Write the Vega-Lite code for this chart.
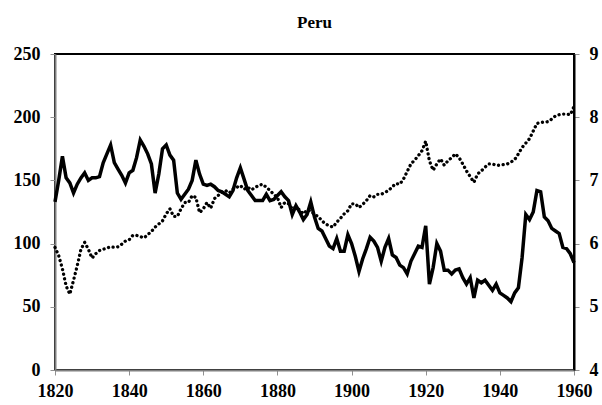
{
  "$schema": "https://vega.github.io/schema/vega-lite/v6.json",
  "autosize": "none",
  "width": 519,
  "height": 316,
  "padding": {"left": 55, "top": 54, "right": 28, "bottom": 35},
  "background": "white",
  "title": {"text": "Peru", "font": "Liberation Serif", "fontSize": 17, "fontWeight": "bold", "color": "black", "offset": 13},
  "config": {
    "view": {"stroke": "black", "strokeWidth": 2},
    "axis": {"labelFont": "Liberation Serif", "labelFontSize": 18, "labelFontWeight": "bold", "labelColor": "black", "grid": false, "domain": true, "domainColor": "#808080", "domainWidth": 2, "tickColor": "#909090", "tickWidth": 1, "tickSize": 5, "title": null, "labelPadding": 10, "labelFlush": false, "labelOverlap": false}
  },
  "data": {"values": [
    {"year":1820,"a":133,"b":5.94},{"year":1821,"a":150,"b":5.81},{"year":1822,"a":169,"b":5.60},{"year":1823,"a":152,"b":5.33},{"year":1824,"a":148,"b":5.20},
    {"year":1825,"a":140,"b":5.42},{"year":1826,"a":147,"b":5.65},{"year":1827,"a":152,"b":5.91},{"year":1828,"a":156,"b":6.02},{"year":1829,"a":150,"b":5.91},
    {"year":1830,"a":152,"b":5.77},{"year":1831,"a":152,"b":5.84},{"year":1832,"a":153,"b":5.89},{"year":1833,"a":164,"b":5.91},{"year":1834,"a":171,"b":5.93},
    {"year":1835,"a":178,"b":5.95},{"year":1836,"a":164,"b":5.94},{"year":1837,"a":159,"b":5.95},{"year":1838,"a":154,"b":5.99},{"year":1839,"a":148,"b":6.04},
    {"year":1840,"a":156,"b":6.06},{"year":1841,"a":158,"b":6.13},{"year":1842,"a":168,"b":6.13},{"year":1843,"a":182,"b":6.11},{"year":1844,"a":177,"b":6.09},
    {"year":1845,"a":171,"b":6.14},{"year":1846,"a":163,"b":6.19},{"year":1847,"a":140,"b":6.26},{"year":1848,"a":155,"b":6.31},{"year":1849,"a":175,"b":6.36},
    {"year":1850,"a":178,"b":6.47},{"year":1851,"a":170,"b":6.55},{"year":1852,"a":166,"b":6.43},{"year":1853,"a":140,"b":6.43},{"year":1854,"a":135,"b":6.55},
    {"year":1855,"a":139,"b":6.65},{"year":1856,"a":143,"b":6.65},{"year":1857,"a":150,"b":6.76},{"year":1858,"a":166,"b":6.73},{"year":1859,"a":155,"b":6.49},
    {"year":1860,"a":147,"b":6.55},{"year":1861,"a":146,"b":6.65},{"year":1862,"a":147,"b":6.56},{"year":1863,"a":145,"b":6.71},{"year":1864,"a":142,"b":6.76},
    {"year":1865,"a":141,"b":6.81},{"year":1866,"a":139,"b":6.84},{"year":1867,"a":137,"b":6.80},{"year":1868,"a":142,"b":6.86},{"year":1869,"a":152,"b":6.89},
    {"year":1870,"a":160,"b":6.92},{"year":1871,"a":151,"b":6.86},{"year":1872,"a":142,"b":6.89},{"year":1873,"a":138,"b":6.85},{"year":1874,"a":134,"b":6.89},
    {"year":1875,"a":134,"b":6.92},{"year":1876,"a":134,"b":6.94},{"year":1877,"a":139,"b":6.89},{"year":1878,"a":134,"b":6.84},{"year":1879,"a":135,"b":6.78},
    {"year":1880,"a":138,"b":6.73},{"year":1881,"a":141,"b":6.57},{"year":1882,"a":137,"b":6.65},{"year":1883,"a":134,"b":6.63},{"year":1884,"a":123,"b":6.55},
    {"year":1885,"a":130,"b":6.58},{"year":1886,"a":125,"b":6.53},{"year":1887,"a":119,"b":6.47},{"year":1888,"a":123,"b":6.53},{"year":1889,"a":133,"b":6.52},
    {"year":1890,"a":121,"b":6.46},{"year":1891,"a":112,"b":6.43},{"year":1892,"a":110,"b":6.36},{"year":1893,"a":104,"b":6.31},{"year":1894,"a":98,"b":6.28},
    {"year":1895,"a":96,"b":6.26},{"year":1896,"a":104,"b":6.34},{"year":1897,"a":94,"b":6.40},{"year":1898,"a":94,"b":6.47},{"year":1899,"a":107,"b":6.52},
    {"year":1900,"a":100,"b":6.63},{"year":1901,"a":90,"b":6.63},{"year":1902,"a":78,"b":6.57},{"year":1903,"a":88,"b":6.62},{"year":1904,"a":96,"b":6.68},
    {"year":1905,"a":105,"b":6.76},{"year":1906,"a":102,"b":6.74},{"year":1907,"a":97,"b":6.78},{"year":1908,"a":86,"b":6.78},{"year":1909,"a":97,"b":6.81},
    {"year":1910,"a":104,"b":6.84},{"year":1911,"a":91,"b":6.90},{"year":1912,"a":89,"b":6.95},{"year":1913,"a":83,"b":6.94},{"year":1914,"a":81,"b":7.02},
    {"year":1915,"a":76,"b":7.14},{"year":1916,"a":86,"b":7.26},{"year":1917,"a":92,"b":7.32},{"year":1918,"a":98,"b":7.39},{"year":1919,"a":97,"b":7.47},
    {"year":1920,"a":114,"b":7.62},{"year":1921,"a":68,"b":7.31},{"year":1922,"a":81,"b":7.16},{"year":1923,"a":100,"b":7.26},{"year":1924,"a":94,"b":7.34},
    {"year":1925,"a":79,"b":7.24},{"year":1926,"a":79,"b":7.31},{"year":1927,"a":76,"b":7.36},{"year":1928,"a":79,"b":7.42},{"year":1929,"a":80,"b":7.36},
    {"year":1930,"a":73,"b":7.26},{"year":1931,"a":68,"b":7.15},{"year":1932,"a":73,"b":7.06},{"year":1933,"a":57,"b":6.97},{"year":1934,"a":71,"b":7.10},
    {"year":1935,"a":69,"b":7.15},{"year":1936,"a":71,"b":7.21},{"year":1937,"a":67,"b":7.26},{"year":1938,"a":63,"b":7.26},{"year":1939,"a":68,"b":7.24},
    {"year":1940,"a":61,"b":7.24},{"year":1941,"a":59,"b":7.25},{"year":1942,"a":57,"b":7.26},{"year":1943,"a":54,"b":7.29},{"year":1944,"a":61,"b":7.33},
    {"year":1945,"a":65,"b":7.42},{"year":1946,"a":89,"b":7.52},{"year":1947,"a":123,"b":7.59},{"year":1948,"a":119,"b":7.66},{"year":1949,"a":125,"b":7.78},
    {"year":1950,"a":142,"b":7.90},{"year":1951,"a":141,"b":7.92},{"year":1952,"a":121,"b":7.92},{"year":1953,"a":118,"b":7.93},{"year":1954,"a":112,"b":7.97},
    {"year":1955,"a":110,"b":8.02},{"year":1956,"a":108,"b":8.04},{"year":1957,"a":97,"b":8.05},{"year":1958,"a":96,"b":8.05},{"year":1959,"a":92,"b":8.04},
    {"year":1960,"a":85,"b":8.17}
  ]},
  "encoding": {
    "x": {"field": "year", "type": "quantitative", "scale": {"domain": [1820, 1960], "nice": false}, "axis": {"values": [1820,1840,1860,1880,1900,1920,1940,1960], "format": "d", "labelPadding": 7}}
  },
  "layer": [
    {
      "mark": {"type": "line", "color": "black", "strokeWidth": 3.3, "strokeDash": [0.1, 4.6], "strokeCap": "round"},
      "encoding": {"y": {"field": "b", "type": "quantitative", "scale": {"domain": [4, 9], "nice": false, "zero": false}, "axis": {"orient": "right", "values": [4,5,6,7,8,9], "domainColor": "black"}}}
    },
    {
      "mark": {"type": "line", "color": "black", "strokeWidth": 3.5, "strokeJoin": "miter"},
      "encoding": {"y": {"field": "a", "type": "quantitative", "scale": {"domain": [0, 250], "nice": false}, "axis": {"orient": "left", "values": [0,50,100,150,200,250]}}}
    }
  ],
  "resolve": {"scale": {"y": "independent"}}
}
